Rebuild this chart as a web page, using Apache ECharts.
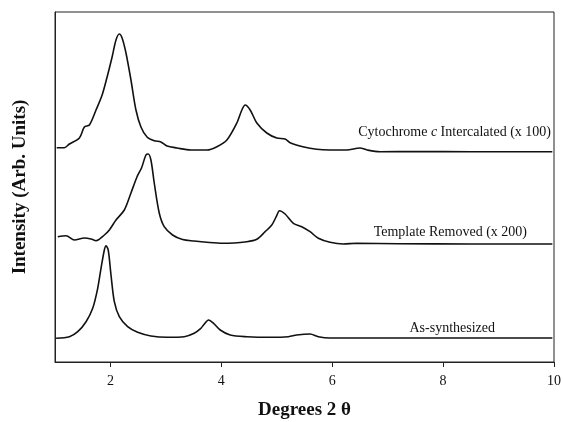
<!DOCTYPE html>
<html>
<head>
<meta charset="utf-8">
<script src="https://cdn.jsdelivr.net/npm/echarts@6/dist/echarts.min.js"></script>
<style>html,body{margin:0;padding:0;background:#fff}#c{width:563px;height:422px}</style>
</head>
<body>
<div id="c"></div>
<script>
// 2θ (degrees) and relative intensity (offset traces, arbitrary units)
const xTicks = [2, 4, 6, 8, 10];

const cytoX = [1.03,1.17,1.26,1.44,1.53,1.62,1.74,1.85,1.94,2.03,2.10,2.16,2.21,2.28,2.37,2.46,2.55,2.66,2.79,2.91,3.02,3.20,3.45,3.74,3.92,4.10,4.28,4.37,4.43,4.52,4.64,4.82,5.00,5.15,5.24,5.47,5.72,5.96,6.26,6.50,6.63,6.86,7.50,8.50,9.97];
const cytoY = [214.3,214.3,218,224,235,237,252,267,285,305,322,328,324,309,282,252,235,225,221.3,220,216,214,212,212,215.3,222,239,252,257,252,239,229,224,223,219.3,215.3,212.7,212,212,214,212,210.3,210.5,210.3,210.3];

const templX = [1.05,1.20,1.35,1.53,1.65,1.74,1.89,1.98,2.10,2.25,2.37,2.48,2.56,2.64,2.68,2.73,2.79,2.88,2.97,3.12,3.30,3.51,3.74,4.03,4.46,4.64,4.79,4.91,4.99,5.05,5.15,5.30,5.45,5.60,5.75,5.96,6.20,6.44,7.20,8.50,9.97];
const templY = [125.3,126.3,122,124,123,121.3,127,132,142,152,169,185.3,194,207,208,202,179,149,135.3,127,122.5,121,119.7,118.7,120.3,122.7,130.3,137,145.3,151.3,148,138.7,135.3,130.3,123.7,119.7,118,118.7,118.3,118,118];

const asX = [1.02,1.26,1.41,1.56,1.68,1.77,1.83,1.89,1.92,1.96,2.01,2.07,2.16,2.31,2.49,2.73,3.03,3.33,3.51,3.63,3.68,3.77,3.86,3.98,4.16,4.46,4.88,5.21,5.36,5.60,5.75,5.96,7.00,8.50,9.97];
const asY = [23.7,25.3,30.3,40.3,53.7,73.7,93.7,112,116.3,112,87,60.3,45.3,35.3,29.7,26,24.7,25.3,28.7,33.7,37,42,38.7,32,27,25.3,24.7,25.3,27,28,25.3,24,24,24,24];

const labels = ['Cytochrome {i|c} Intercalated (x 100)', 'Template Removed (x 200)', 'As-synthesized'];

function pairs(xs, ys) { return xs.map((x, i) => [x, ys[i]]); }

const chart = echarts.init(document.getElementById('c'), null, {renderer: 'canvas'});
const serif = '"Liberation Serif", "Times New Roman", serif';
const lineStyle = {color: '#111', width: 1.6};

chart.setOption({
  animation: false,
  grid: {left: 55, right: 9, top: 12, bottom: 60, show: true, borderColor: '#222', borderWidth: 1,
    outerBoundsMode: 'none', containLabel: false},
  xAxis: {
    type: 'value', min: 1, max: 10,
    name: 'Degrees 2 θ', nameLocation: 'middle', nameGap: 39,
    nameTextStyle: {fontFamily: serif, fontWeight: 'bold', fontSize: 19, color: '#111'},
    axisLine: {show: true, lineStyle: {color: '#222', width: 1}},
    axisTick: {show: true, inside: false, length: 5, customValues: xTicks, lineStyle: {color: '#222'}},
    axisLabel: {customValues: xTicks, margin: 12, fontFamily: serif, fontSize: 14, color: '#111'},
    splitLine: {show: false}
  },
  yAxis: {
    type: 'value', min: 0, max: 350,
    name: 'Intensity (Arb. Units)', nameLocation: 'middle', nameGap: 25,
    nameTextStyle: {fontFamily: serif, fontWeight: 'bold', fontSize: 19, color: '#111'},
    axisLine: {show: true, lineStyle: {color: '#222', width: 1}},
    axisTick: {show: false}, axisLabel: {show: false}, splitLine: {show: false}
  },
  series: [
    {type: 'line', data: pairs(cytoX, cytoY), showSymbol: false, smooth: 0.3, lineStyle},
    {type: 'line', data: pairs(templX, templY), showSymbol: false, smooth: 0.3, lineStyle},
    {type: 'line', data: pairs(asX, asY), showSymbol: false, smooth: 0.3, lineStyle}
  ],
  graphic: [
    {type: 'text', right: 12, top: 125, style: {text: labels[0], font: '14px ' + serif, fill: '#111',
      rich: {i: {fontStyle: 'italic', fontFamily: serif, fontSize: 14, fill: '#111'}}}},
    {type: 'text', right: 36, top: 225, style: {text: labels[1], font: '14px ' + serif, fill: '#111'}},
    {type: 'text', right: 68, top: 321, style: {text: labels[2], font: '14px ' + serif, fill: '#111'}}
  ]
});
</script>
</body>
</html>
